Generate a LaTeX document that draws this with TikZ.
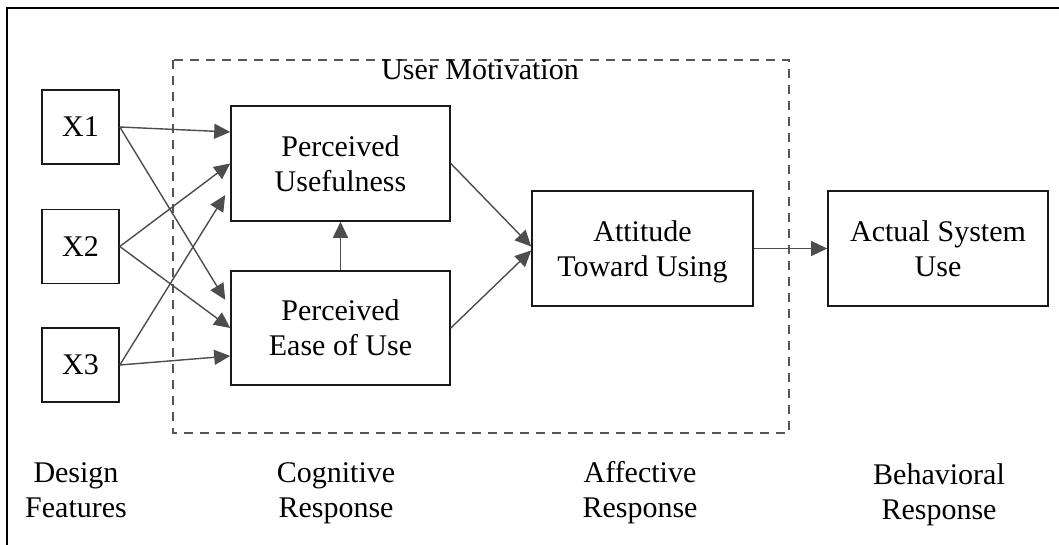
\documentclass[tikz,border=0pt]{standalone}
\usepackage{fontspec}
\setmainfont{Liberation Serif}
\usetikzlibrary{arrows.meta,calc}
\definecolor{linkgray}{HTML}{4D4D4D}
\definecolor{dashgray}{HTML}{555555}
\begin{document}
\begin{tikzpicture}[x=1pt,y=-1pt,
  txt/.style={font=\fontsize{30}{35}\selectfont, align=center, inner sep=0pt},
  boxbase/.style={txt, draw=black!90, line width=1.6pt, text depth=0pt},
  xbox/.style={boxbase, minimum width=77pt, minimum height=74pt},
  concept/.style={boxbase, minimum width=220pt, minimum height=115pt},
  link/.style={draw=linkgray, line width=1.4pt, -{Triangle[length=16pt,width=15pt]}},
  frame/.style={draw=black, line width=1.8pt},
  group/.style={draw=dashgray, line width=2.8pt, dash pattern=on 9pt off 7pt}]

\useasboundingbox (0,0) rectangle (1059,545);

% page frame (top and left edges only)
\draw[frame] (1059,8) -- (7,8) -- (7,545);

% user motivation group
\draw[group] (173,60) rectangle (789,433);
\node[txt, anchor=base] (motivation) at (480,80) {User Motivation};

% design features
\node[xbox] (x1) at (80.5,127) {X1};
\node[xbox] (x2) at (80.5,246.5) {X2};
\node[xbox] (x3) at (80.5,365) {X3};

% model constructs
\node[concept, minimum width=219pt] (pu) at (340.5,163.5) {Perceived\\Usefulness};
\node[concept, minimum width=219pt, minimum height=114pt] (peou) at (340.5,328) {Perceived\\Ease of Use};
\node[concept, minimum width=221pt] (atu) at (642.5,248.5) {Attitude\\Toward Using};
\node[concept] (asu) at (938,248.5) {Actual System\\Use};

% feature links
\draw[link] (x1.east) -- ($(pu.west)+(0,-31.5)$);
\draw[link, shorten >=9.5pt] (x1.east) -- ($(peou.west)+(0,-20)$);
\draw[link] (x2.east) -- (pu.west);
\draw[link] (x2.east) -- (peou.west);
\draw[link, shorten >=9.5pt] (x3.east) -- ($(pu.west)+(0,23.5)$);
\draw[link] (x3.east) -- ($(peou.west)+(0,28)$);

% model links
\draw[link] (peou.north) -- (pu.south);
\draw[link] (pu.east) -- ($(atu.west)+(0,-2)$);
\draw[link] (peou.east) -- ($(atu.west)+(0,2)$);
\draw[link] (atu.east) -- (asu.west);

% response stages (base anchor sits on the second line)
\node[txt, anchor=base] (design) at (76,517) {Design\\Features};
\node[txt, anchor=base] (cognitive) at (336,517) {Cognitive\\Response};
\node[txt, anchor=base] (affective) at (640,517) {Affective\\Response};
\node[txt, anchor=base] (behavioral) at (939,519) {Behavioral\\Response};
\end{tikzpicture}
\end{document}
